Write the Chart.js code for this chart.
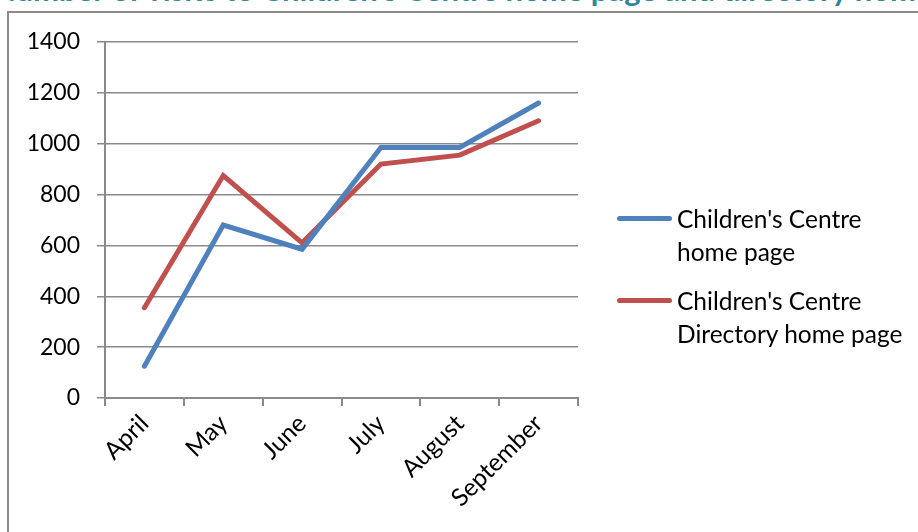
<!DOCTYPE html>
<html>
<head>
<meta charset="utf-8">
<script src="https://cdn.jsdelivr.net/npm/chart.js@4.4.0/dist/chart.umd.min.js"></script>
<style>
  html, body { margin: 0; padding: 0; background: #fff; overflow: hidden; }
  #wrap { position: relative; width: 918px; height: 532px; overflow: hidden; }
  #title {
    position: absolute; left: -8px; top: -24px; white-space: nowrap;
    font: bold 31px Lato, sans-serif; line-height: 26px; color: #31859C;
  }
  #frame {
    position: absolute; left: 7px; top: 11px; width: 2000px; height: 2000px;
    border: 2px solid #8a8a8a; background: #fff;
  }
  #chart { position: absolute; left: 0; top: 0; }
  #legend { position: absolute; left: 617px; top: 202px; font: 24.5px Lato, sans-serif; color: #000; }
  .item { position: relative; padding-left: 60px; line-height: 33px; margin-bottom: 16px; }
  .swatch { position: absolute; left: 0; top: 14px; width: 55px; height: 5px; border-radius: 3px; }
</style>
</head>
<body>
<div id="wrap">
  <div id="title">Number of visits to Children's Centre home page and directory home page</div>
  <div id="frame"></div>
  <canvas id="chart" width="918" height="532"></canvas>
  <div id="legend"></div>
</div>
<script>
// months on the x axis
const months = ['April', 'May', 'June', 'July', 'August', 'September'];
// visits per month
const homePage = [125, 680, 585, 985, 985, 1160];
const directoryPage = [355, 875, 610, 920, 955, 1090];
const seriesNames = [["Children's Centre", 'home page'], ["Children's Centre", 'Directory home page']];
const seriesColors = ['#4F81BD', '#C0504D'];
const yTicks = [0, 200, 400, 600, 800, 1000, 1200, 1400];

const axisGray = '#8a8a8a';
const yFont = { family: 'Lato, sans-serif', size: 23 };
const xFont = { family: 'Lato, sans-serif', size: 24.5 };

const ctx = document.getElementById('chart').getContext('2d');
const chart = new Chart(ctx, {
  type: 'line',
  data: {
    labels: months,
    datasets: [homePage, directoryPage].map((values, i) => ({
      label: seriesNames[i].join(' '),
      data: values,
      borderColor: seriesColors[i],
      backgroundColor: seriesColors[i],
      borderWidth: 5,
      borderCapStyle: 'round',
      borderJoinStyle: 'miter',
      pointRadius: 0,
      tension: 0,
    })),
  },
  options: {
    responsive: false,
    animation: false,
    layout: { padding: { top: 42, right: 340, left: 0, bottom: 0 } },
    plugins: { legend: { display: false }, tooltip: { enabled: false } },
    scales: {
      x: {
        offset: true,
        grid: { drawOnChartArea: false, drawTicks: true, tickLength: 8, color: axisGray, lineWidth: 2, offset: true },
        border: { color: axisGray, width: 2 },
        ticks: { color: '#000', font: xFont, maxRotation: 45, minRotation: 45, padding: 3 },
        afterFit: (axis) => { axis.height = 134; },
      },
      y: {
        min: 0,
        max: 1400,
        afterBuildTicks: (axis) => { axis.ticks = yTicks.map(v => ({ value: v })); },
        grid: { color: axisGray, lineWidth: 1.5, tickLength: 8 },
        border: { color: axisGray, width: 2 },
        ticks: { color: '#000', font: yFont, padding: 17, callback: (v) => String(v) },
        afterFit: (axis) => { axis.width = 105; },
      },
    },
  },
});

// legend with two-line labels, built from the datasets
const legend = document.getElementById('legend');
chart.data.datasets.forEach((ds, i) => {
  const item = document.createElement('div');
  item.className = 'item';
  item.innerHTML = '<span class="swatch" style="background:' + ds.borderColor + '"></span>' +
    seriesNames[i].join('<br>');
  legend.appendChild(item);
});
</script>
</body>
</html>
